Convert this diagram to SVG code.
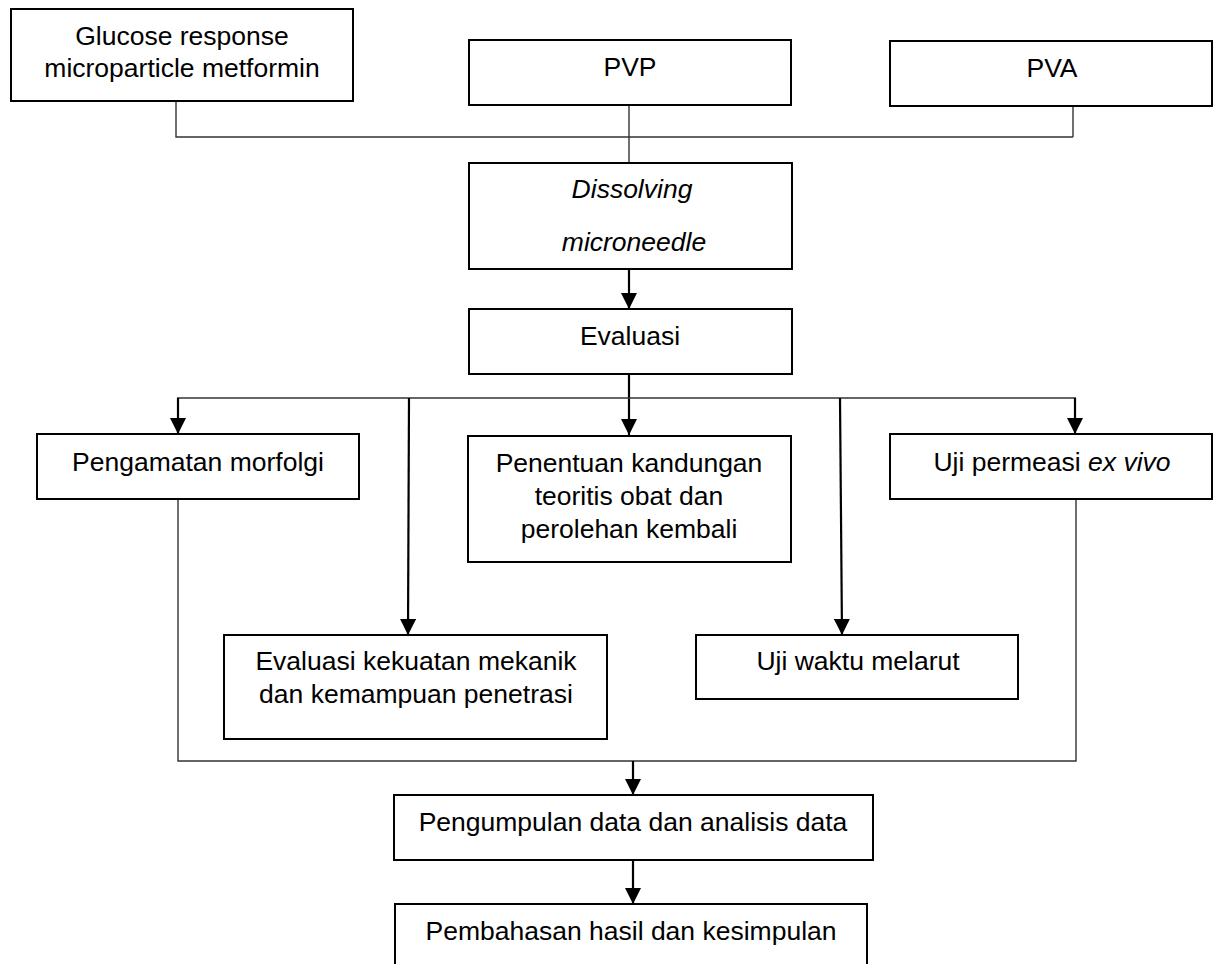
<svg xmlns="http://www.w3.org/2000/svg" width="1218" height="964" viewBox="0 0 1218 964">
<style>
.box{fill:#fff;stroke:#000;stroke-width:2}
.t{font-family:"Liberation Sans",Arial,sans-serif;font-size:26.5px;fill:#000;text-anchor:middle}
.i{font-style:italic}
.thin{fill:none;stroke:#333;stroke-width:1.4}
.arr{fill:none;stroke:#000;stroke-width:2.2;marker-end:url(#ah)}
</style>
<defs>
<marker id="ah" markerUnits="userSpaceOnUse" markerWidth="16" markerHeight="16" viewBox="0 0 15 15" refX="15" refY="7.5" orient="auto">
<path d="M0,0 L15,7.5 L0,15 Z" fill="#000"/>
</marker>
</defs>
<rect width="1218" height="964" fill="#fff"/>
<g id="connectors">
<polyline class="thin" points="176,101 176,137 1073,137"/>
<line class="thin" x1="1073" y1="105" x2="1073" y2="137"/>
<line class="thin" x1="629" y1="105" x2="629" y2="164"/>
<line class="arr" x1="629" y1="268" x2="629" y2="309"/>
<line class="arr" x1="629" y1="374" x2="629" y2="435"/>
<line class="thin" x1="177" y1="398" x2="1076" y2="398"/>
<line class="arr" x1="178" y1="398" x2="178" y2="434"/>
<line class="arr" x1="409" y1="398" x2="408" y2="635"/>
<line class="arr" x1="840" y1="398" x2="842" y2="635"/>
<line class="arr" x1="1075" y1="398" x2="1075" y2="434"/>
<polyline class="thin" points="178,499 178,761 1076,761 1076,499"/>
<line class="arr" x1="633" y1="761" x2="633" y2="795"/>
<line class="arr" x1="633" y1="860" x2="633" y2="904"/>
</g>
<g id="glucose"><rect class="box" x="11" y="9" width="342" height="92"/><text class="t" x="182" y="45">Glucose response</text><text class="t" x="182" y="77">microparticle metformin</text></g>
<g id="pvp"><rect class="box" x="469" y="40" width="322" height="65"/><text class="t" x="630" y="76">PVP</text></g>
<g id="pva"><rect class="box" x="890" y="41" width="322" height="65"/><text class="t" x="1052" y="77">PVA</text></g>
<g id="dissolving"><rect class="box" x="469" y="163" width="323" height="106"/><text class="t i" x="632" y="198">Dissolving</text><text class="t i" x="634" y="251">microneedle</text></g>
<g id="evaluasi"><rect class="box" x="469" y="309" width="323" height="65"/><text class="t" x="630" y="345">Evaluasi</text></g>
<g id="pengamatan"><rect class="box" x="37" y="434" width="322" height="65"/><text class="t" x="198" y="471">Pengamatan morfolgi</text></g>
<g id="penentuan"><rect class="box" x="468" y="436" width="323" height="126"/><text class="t" x="629" y="472">Penentuan kandungan</text><text class="t" x="629" y="505">teoritis obat dan</text><text class="t" x="629" y="538">perolehan kembali</text></g>
<g id="permeasi"><rect class="box" x="890" y="434" width="322" height="65"/><text class="t" x="1052" y="471">Uji permeasi <tspan class="i">ex vivo</tspan></text></g>
<g id="mekanik"><rect class="box" x="224" y="635" width="383" height="104"/><text class="t" x="416" y="670">Evaluasi kekuatan mekanik</text><text class="t" x="416" y="703">dan kemampuan penetrasi</text></g>
<g id="melarut"><rect class="box" x="696" y="635" width="322" height="64"/><text class="t" x="858" y="670">Uji waktu melarut</text></g>
<g id="pengumpulan"><rect class="box" x="394" y="795" width="479" height="65"/><text class="t" x="633" y="831">Pengumpulan data dan analisis data</text></g>
<g id="pembahasan"><rect class="box" x="395" y="904" width="472" height="80"/><text class="t" x="631" y="940">Pembahasan hasil dan kesimpulan</text></g>
</svg>
